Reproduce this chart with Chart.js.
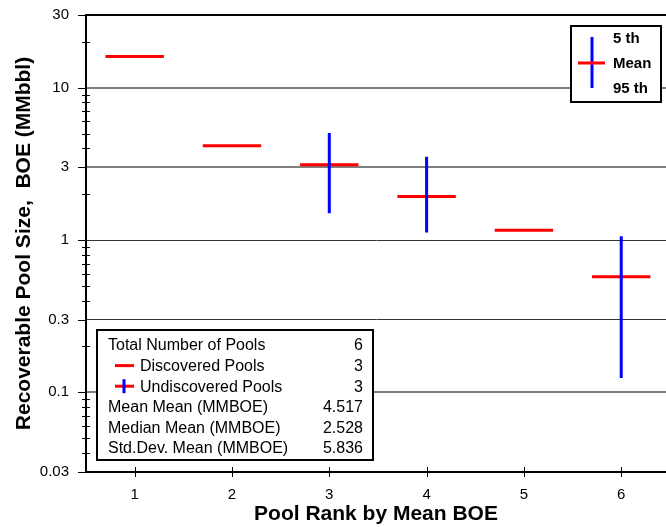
<!DOCTYPE html>
<html>
<head>
<meta charset="utf-8">
<script src="https://cdn.jsdelivr.net/npm/chart.js@4/dist/chart.umd.min.js"></script>
<style>
  html, body { margin: 0; padding: 0; background: #fff; }
  #wrap { width: 666px; height: 527px; }
</style>
</head>
<body>
<div id="wrap"><canvas id="poolChart" width="666" height="527"></canvas></div>
<script>
// pools ranked by mean size
const poolRank = [1, 2, 3, 4, 5, 6];
const meanBoe = [16.0, 4.16, 3.12, 1.93, 1.16, 0.574];
const isDiscovered = [true, true, false, false, true, false];
// fractiles for undiscovered pools (null for discovered)
const fractile5 = [null, null, 5.05, 3.52, null, 1.06];
const fractile95 = [null, null, 1.50, 1.12, null, 0.124];

const yTickValues = [0.03, 0.1, 0.3, 1, 3, 10, 30];
const yTickLabels = ['0.03', '0.1', '0.3', '1', '3', '10', '30'];
const xTickValues = [1, 2, 3, 4, 5, 6];

const statLabels = ['Total Number of Pools', 'Discovered Pools', 'Undiscovered Pools',
  'Mean Mean (MMBOE)', 'Median Mean (MMBOE)', 'Std.Dev. Mean (MMBOE)'];
const statValues = ['6', '3', '3', '4.517', '2.528', '5.836'];

const FONT = '"Liberation Sans", Arial, sans-serif';
const HALF = 0.3; // half width of mean bar, in rank units

// build segment data, null points break the line
const meanData = [];
const rangeData = [];
poolRank.forEach((r, i) => {
  meanData.push({ x: r - HALF, y: meanBoe[i] }, { x: r + HALF, y: meanBoe[i] }, { x: r, y: null });
  if (!isDiscovered[i]) {
    rangeData.push({ x: r, y: fractile95[i] }, { x: r, y: fractile5[i] }, { x: r, y: null });
  }
});

const gridColor = (v) => {
  if (v === 30) return '#000';
  if (v === 0.03) return 'rgba(0,0,0,0)';
  if (v === 1 || v === 0.3) return '#333';
  return '#808080';
};

const extras = {
  id: 'extras',
  afterDraw(chart) {
    const ctx = chart.ctx;
    const xs = chart.scales.x, ys = chart.scales.y;
    const area = chart.chartArea;
    ctx.save();
    ctx.strokeStyle = '#000';
    // top border
    ctx.lineWidth = 2;
    ctx.beginPath(); ctx.moveTo(area.left, area.top); ctx.lineTo(area.right, area.top); ctx.stroke();
    ctx.lineWidth = 1;
    // y major ticks
    yTickValues.forEach(v => {
      const y = Math.round(ys.getPixelForValue(v)) + 0.5;
      ctx.beginPath(); ctx.moveTo(area.left - 8, y); ctx.lineTo(area.left, y); ctx.stroke();
    });
    // y minor ticks
    for (let e = -2; e <= 1; e++) {
      for (let k = 2; k <= 9; k++) {
        const v = k * Math.pow(10, e);
        if (v <= 0.03 || v >= 30 || k === 3) continue;
        const y = Math.round(ys.getPixelForValue(v)) + 0.5;
        ctx.beginPath(); ctx.moveTo(area.left - 4, y); ctx.lineTo(area.left + 4, y); ctx.stroke();
      }
    }
    // x ticks across the axis
    xTickValues.forEach(v => {
      const x = Math.round(xs.getPixelForValue(v)) + 0.5;
      ctx.beginPath(); ctx.moveTo(x, area.bottom - 5); ctx.lineTo(x, area.bottom + 5); ctx.stroke();
    });

    // key box, top right
    ctx.fillStyle = '#fff';
    ctx.fillRect(571, 26, 90, 76);
    ctx.lineWidth = 2;
    ctx.strokeRect(571, 26, 90, 76);
    ctx.strokeStyle = '#0000ff';
    ctx.lineWidth = 3;
    ctx.beginPath(); ctx.moveTo(592, 37); ctx.lineTo(592, 88); ctx.stroke();
    ctx.strokeStyle = '#ff0000';
    ctx.beginPath(); ctx.moveTo(578, 63); ctx.lineTo(605, 63); ctx.stroke();
    ctx.fillStyle = '#000';
    ctx.font = 'bold 15px ' + FONT;
    ctx.textAlign = 'left';
    ctx.textBaseline = 'middle';
    ctx.fillText('5 th', 613, 39);
    ctx.fillText('Mean', 613, 64);
    ctx.fillText('95 th', 613, 89);

    // summary box, bottom left
    ctx.fillStyle = '#fff';
    ctx.fillRect(97, 330, 276, 130);
    ctx.strokeStyle = '#000';
    ctx.lineWidth = 2;
    ctx.strokeRect(97, 330, 276, 130);
    ctx.font = '16px ' + FONT;
    statLabels.forEach((lab, i) => {
      const y = 345 + i * 20.6;
      const indent = (i === 1 || i === 2);
      ctx.fillStyle = '#000';
      ctx.textAlign = 'left';
      ctx.fillText(lab, indent ? 140 : 108, y + 1);
      ctx.textAlign = 'right';
      ctx.fillText(statValues[i], 363, y + 1);
      if (indent) {
        ctx.lineWidth = 3;
        ctx.strokeStyle = '#ff0000';
        ctx.beginPath(); ctx.moveTo(115, y); ctx.lineTo(134, y); ctx.stroke();
        if (i === 2) {
          ctx.strokeStyle = '#0000ff';
          ctx.beginPath(); ctx.moveTo(124, y - 7); ctx.lineTo(124, y + 7); ctx.stroke();
        }
      }
    });
    ctx.restore();
  }
};

new Chart(document.getElementById('poolChart'), {
  type: 'scatter',
  data: {
    datasets: [
      {
        label: 'Mean',
        data: meanData,
        showLine: true,
        spanGaps: false,
        borderColor: '#ff0000',
        borderWidth: 3,
        borderCapStyle: 'butt',
        pointRadius: 0,
        order: 2
      },
      {
        label: '5th - 95th',
        data: rangeData,
        showLine: true,
        spanGaps: false,
        borderColor: '#0000ff',
        borderWidth: 3,
        borderCapStyle: 'butt',
        pointRadius: 0,
        order: 1
      }
    ]
  },
  options: {
    responsive: false,
    animation: false,
    layout: { padding: { top: 15, left: 0, right: 0, bottom: 0 } },
    plugins: { legend: { display: false }, tooltip: { enabled: false } },
    scales: {
      x: {
        type: 'linear',
        min: 0.5,
        max: 6.46,
        afterBuildTicks: (s) => { s.ticks = xTickValues.map(v => ({ value: v })); },
        afterFit: (s) => { s.height = 55; s.paddingLeft = 0; s.paddingRight = 0; },
        grid: { drawOnChartArea: false, drawTicks: false },
        border: { color: '#000', width: 2 },
        ticks: { padding: 14, color: '#000', font: { family: FONT, size: 15 } },
        title: {
          display: true,
          text: 'Pool Rank by Mean BOE',
          color: '#000',
          font: { family: FONT, size: 21, weight: 'bold' },
          padding: { top: 0, bottom: 0 }
        }
      },
      y: {
        type: 'logarithmic',
        min: 0.03,
        max: 30,
        afterBuildTicks: (s) => { s.ticks = yTickValues.map(v => ({ value: v })); },
        afterFit: (s) => { s.width = 86; s.paddingTop = 0; s.paddingBottom = 0; },
        grid: {
          drawTicks: false,
          color: (c) => gridColor(c.tick ? c.tick.value : 0),
          lineWidth: (c) => (c.tick && (c.tick.value === 1 || c.tick.value === 0.3)) ? 1 : 2
        },
        border: { color: '#000', width: 2 },
        ticks: {
          padding: 17,
          color: '#000',
          font: { family: FONT, size: 15 },
          callback: (v, i) => yTickLabels[i]
        },
        title: {
          display: true,
          text: 'Recoverable Pool Size,  BOE (MMbbl)',
          color: '#000',
          font: { family: FONT, size: 21, weight: 'bold' },
          padding: { top: 12, bottom: 0 }
        }
      }
    }
  },
  plugins: [extras]
});
</script>
</body>
</html>
